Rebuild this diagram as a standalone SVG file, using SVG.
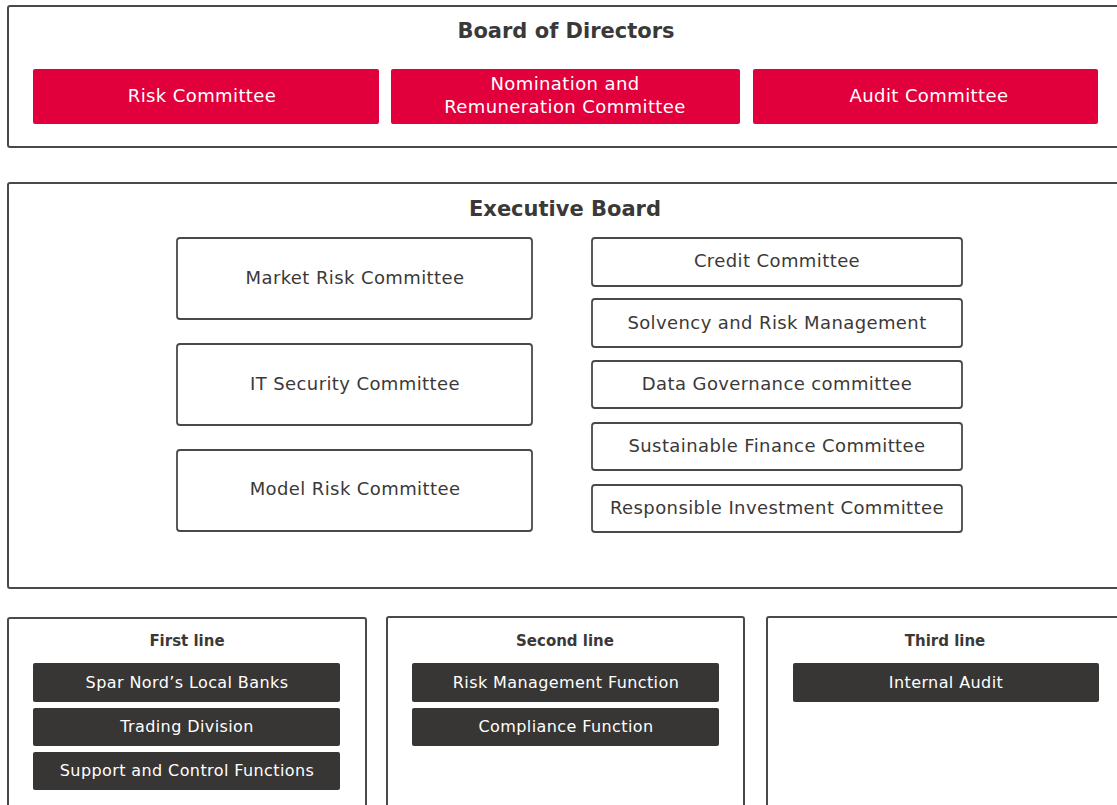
<svg xmlns="http://www.w3.org/2000/svg" width="1117" height="805" viewBox="0 0 1117 805">
<style>
.frame{fill:#fff;stroke:#4a4948;stroke-width:2}
.red{fill:#e1003c}
.out{fill:#fff;stroke:#4a4948;stroke-width:1.8}
.dark{fill:#383634}
text{font-family:"DejaVu Sans","Liberation Sans",sans-serif;text-anchor:middle}
.h1{font-size:21px;font-weight:bold;fill:#3b3937}
.h2{font-size:15px;font-weight:bold;fill:#3b3937}
.w{font-size:18px;fill:#fff;letter-spacing:0.4px}
.g{font-size:18px;fill:#3b3937;letter-spacing:0.4px}
.s{font-size:16px;fill:#fff;letter-spacing:0.4px}
</style>
<rect width="1117" height="805" fill="#fff"/>
<g id="board">
<rect class="frame" x="8" y="6" width="1120" height="141" rx="2"/>
<text class="h1" x="566" y="38">Board of Directors</text>
</g>
<g id="risk-committee"><rect class="red" x="33" y="69" width="346" height="55" rx="2"/><text class="w" x="202" y="102">Risk Committee</text></g>
<g id="nomination"><rect class="red" x="391" y="69" width="349" height="55" rx="2"/><text class="w" x="565" y="90">Nomination and</text><text class="w" x="565" y="113">Remuneration Committee</text></g>
<g id="audit-committee"><rect class="red" x="753" y="69" width="345" height="55" rx="2"/><text class="w" x="929" y="102">Audit Committee</text></g>
<g id="executive">
<rect class="frame" x="8" y="183" width="1120" height="405" rx="2"/>
<text class="h1" x="565" y="216">Executive Board</text>
</g>
<g id="market"><rect class="out" x="177" y="238" width="355" height="81" rx="3"/><text class="g" x="355" y="284">Market Risk Committee</text></g>
<g id="it"><rect class="out" x="177" y="344" width="355" height="81" rx="3"/><text class="g" x="355" y="390">IT Security Committee</text></g>
<g id="model"><rect class="out" x="177" y="450" width="355" height="81" rx="3"/><text class="g" x="355" y="495">Model Risk Committee</text></g>
<g id="credit"><rect class="out" x="592" y="238" width="370" height="48" rx="3"/><text class="g" x="777" y="267">Credit Committee</text></g>
<g id="solvency"><rect class="out" x="592" y="299" width="370" height="48" rx="3"/><text class="g" x="777" y="329">Solvency and Risk Management</text></g>
<g id="data"><rect class="out" x="592" y="361" width="370" height="47" rx="3"/><text class="g" x="777" y="390">Data Governance committee</text></g>
<g id="sustainable"><rect class="out" x="592" y="423" width="370" height="47" rx="3"/><text class="g" x="777" y="452">Sustainable Finance Committee</text></g>
<g id="responsible"><rect class="out" x="592" y="485" width="370" height="47" rx="3"/><text class="g" x="777" y="514">Responsible Investment Committee</text></g>
<g id="first-line">
<rect class="frame" x="8" y="618" width="358" height="200" rx="2"/>
<text class="h2" x="187" y="646">First line</text>
</g>
<g id="local-banks"><rect class="dark" x="33" y="663" width="307" height="39" rx="2"/><text class="s" x="187" y="688">Spar Nord’s Local Banks</text></g>
<g id="trading"><rect class="dark" x="33" y="708" width="307" height="38" rx="2"/><text class="s" x="187" y="732">Trading Division</text></g>
<g id="support"><rect class="dark" x="33" y="752" width="307" height="38" rx="2"/><text class="s" x="187" y="776">Support and Control Functions</text></g>
<g id="second-line">
<rect class="frame" x="387" y="617" width="357" height="200" rx="2"/>
<text class="h2" x="565" y="646">Second line</text>
</g>
<g id="risk-mgmt"><rect class="dark" x="412" y="663" width="307" height="39" rx="2"/><text class="s" x="566" y="688">Risk Management Function</text></g>
<g id="compliance"><rect class="dark" x="412" y="708" width="307" height="38" rx="2"/><text class="s" x="566" y="732">Compliance Function</text></g>
<g id="third-line">
<rect class="frame" x="767" y="617" width="360" height="200" rx="2"/>
<text class="h2" x="945" y="646">Third line</text>
</g>
<g id="internal-audit"><rect class="dark" x="793" y="663" width="306" height="39" rx="2"/><text class="s" x="946" y="688">Internal Audit</text></g>
<g id="connectors"></g>
</svg>
